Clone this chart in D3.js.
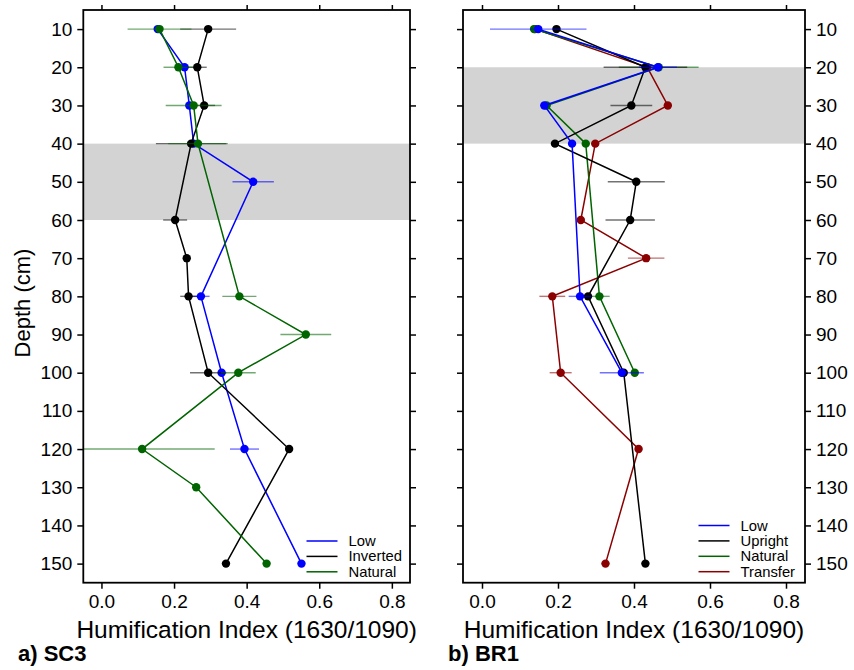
<!DOCTYPE html>
<html>
<head>
<meta charset="utf-8">
<script src="https://cdn.jsdelivr.net/npm/d3@7"></script>
<style>
    body { margin: 0; background: #fff; }
    svg { font-family: "Liberation Sans", Arial, sans-serif; }
</style>
</head>
<body>
<svg id="chart" width="854" height="670"></svg>
<script>
// depths (cm), shared by both cores
const depths = [10, 20, 30, 40, 50, 60, 70, 80, 90, 100, 110, 120, 130, 140, 150];
const xTicks = [0, 0.2, 0.4, 0.6, 0.8];

// a) SC3
const sc3Low = [0.155, 0.229, 0.242, 0.254, 0.418, null, null, 0.274, null, 0.331, null, 0.394, null, null, 0.551];
const sc3LowErr = [0.01, 0.01, 0.01, 0.01, 0.057, null, null, 0.024, null, 0.01, null, 0.04, null, null, 0];
const sc3Inverted = [0.294, 0.264, 0.283, 0.247, null, 0.203, 0.235, 0.240, null, 0.294, null, 0.517, null, null, 0.343];
const sc3InvertedErr = [0.077, 0.026, 0.03, 0.097, null, 0.033, 0, 0.023, null, 0.05, null, 0, null, null, 0];
const sc3Natural = [0.160, 0.212, 0.254, 0.266, null, null, null, 0.380, 0.563, 0.377, null, 0.112, 0.261, null, 0.455];
const sc3NaturalErr = [0.088, 0.041, 0.077, 0.082, null, null, null, 0.047, 0.07, 0.048, null, 0.2, 0, null, 0];

// b) BR1
const br1Low = [0.148, 0.463, 0.164, 0.237, null, null, null, 0.258, null, 0.368, null, null, null, null, null];
const br1LowErr = [0.127, 0.05, 0.01, 0.01, null, null, null, 0.03, null, 0.058, null, null, null, null, null];
const br1Upright = [0.196, 0.430, 0.393, 0.192, 0.406, 0.390, null, 0.279, null, 0.373, null, null, null, null, 0.430];
const br1UprightErr = [0.01, 0.11, 0.055, 0.01, 0.075, 0.065, null, 0.01, null, 0.01, null, null, null, null, 0];
const br1Natural = [0.137, 0.465, 0.170, 0.273, null, null, null, 0.309, null, 0.402, null, null, null, null, null];
const br1NaturalErr = [0.01, 0.105, 0.01, 0.01, null, null, null, 0.027, null, 0.01, null, null, null, null, null];
const br1Transfer = [0.14, 0.435, 0.489, 0.298, null, 0.260, 0.432, 0.185, null, 0.207, null, 0.412, null, null, 0.325];
const br1TransferErr = [0.01, 0.01, 0.01, 0.01, null, 0.01, 0.048, 0.034, null, 0.029, null, 0.01, null, null, 0.01];

const colors = { Low: "#0000ff", Inverted: "#000000", Upright: "#000000", Natural: "#006400", Transfer: "#8b0000" };

class DepthPanel {
    constructor(svg, opts) {
        this.svg = svg;
        this.opts = opts;
    }

    draw() {
        let o = this.opts;
        let g = this.svg.append("g");

        let x = d3.scaleLinear().domain([-0.05, 0.85]).range([o.left, o.right]);
        let y = d3.scaleLinear().domain([5, 155]).range([o.top, o.bottom]);

        let clipId = "clip-" + o.id;
        this.svg.append("defs").append("clipPath").attr("id", clipId)
            .append("rect")
            .attr("x", o.left).attr("y", o.top)
            .attr("width", o.right - o.left).attr("height", o.bottom - o.top);

        // shaded depth band
        g.append("rect")
            .attr("x", o.left)
            .attr("y", y(o.band[0]))
            .attr("width", o.right - o.left)
            .attr("height", y(o.band[1]) - y(o.band[0]))
            .attr("fill", "#d3d3d3");

        let plot = g.append("g").attr("clip-path", `url(#${clipId})`);

        o.series.forEach(s => {
            let pts = depths.map((d, i) => ({ depth: d, v: s.values[i], e: s.err[i] }))
                .filter(p => p.v != null);
            let sg = plot.append("g");

            sg.selectAll("line.err").data(pts.filter(p => p.e > 0)).join("line")
                .attr("class", "err")
                .attr("x1", p => x(p.v - p.e))
                .attr("x2", p => x(p.v + p.e))
                .attr("y1", p => y(p.depth))
                .attr("y2", p => y(p.depth))
                .attr("stroke", colors[s.name])
                .attr("stroke-width", 1.4)
                .attr("opacity", 0.55);

            sg.append("path")
                .datum(pts)
                .attr("fill", "none")
                .attr("stroke", colors[s.name])
                .attr("stroke-width", 1.5)
                .attr("d", d3.line().x(p => x(p.v)).y(p => y(p.depth)));

            sg.selectAll("circle").data(pts).join("circle")
                .attr("cx", p => x(p.v))
                .attr("cy", p => y(p.depth))
                .attr("r", 4.2)
                .attr("fill", colors[s.name]);
        });

        // axes, ticks on all four sides
        let tickFont = sel => sel.selectAll("text").style("font-size", "19px").attr("fill", "#000");
        let noDomain = sel => sel.select(".domain").remove();

        g.append("g").attr("transform", `translate(0,${o.bottom})`)
            .call(d3.axisBottom(x).tickValues(xTicks).tickFormat(d3.format(".1f")).tickSize(6).tickPadding(6))
            .call(noDomain).call(tickFont);
        g.append("g").attr("transform", `translate(0,${o.top})`)
            .call(d3.axisTop(x).tickValues(xTicks).tickFormat("").tickSize(5))
            .call(noDomain);

        let yLabelled = o.yRight ? d3.axisRight(y) : d3.axisLeft(y);
        let yPlain = o.yRight ? d3.axisLeft(y) : d3.axisRight(y);
        g.append("g").attr("transform", `translate(${o.yRight ? o.right : o.left},0)`)
            .call(yLabelled.tickValues(depths).tickSize(6).tickPadding(5))
            .call(noDomain).call(tickFont);
        g.append("g").attr("transform", `translate(${o.yRight ? o.left : o.right},0)`)
            .call(yPlain.tickValues(depths).tickFormat("").tickSize(6))
            .call(noDomain);
        g.selectAll(".tick line").attr("stroke", "#000").attr("stroke-width", 1.5);

        // frame
        g.append("rect")
            .attr("x", o.left).attr("y", o.top)
            .attr("width", o.right - o.left).attr("height", o.bottom - o.top)
            .attr("fill", "none")
            .attr("stroke", "#000")
            .attr("stroke-width", 1.8);

        // x title and panel label
        g.append("text")
            .attr("x", (o.left + o.right) / 2)
            .attr("y", 638)
            .attr("text-anchor", "middle")
            .style("font-size", "24.5px")
            .text("Humification Index (1630/1090)");

        g.append("text")
            .attr("x", o.labelX)
            .attr("y", 661)
            .style("font-size", "22px")
            .style("font-weight", "bold")
            .text(o.label);

        // legend
        let legend = g.append("g")
            .attr("transform", `translate(${o.legendX}, ${o.legendY})`);
        let rows = legend.selectAll("g").data(o.legendNames).join("g")
            .attr("transform", (d, i) => `translate(0, ${i * 15.4})`);
        rows.append("line")
            .attr("x1", 0).attr("x2", 31)
            .attr("stroke", d => colors[d])
            .attr("stroke-width", 1.5);
        rows.append("text")
            .attr("x", 42)
            .attr("y", 5)
            .style("font-size", "14.8px")
            .text(d => d);
    }
}

let svg = d3.select("#chart");

new DepthPanel(svg, {
    id: "sc3", left: 83.3, right: 410, top: 10, bottom: 582.7,
    band: [40, 60], yRight: false, label: "a) SC3", labelX: 18,
    legendX: 306.5, legendY: 541, legendNames: ["Low", "Inverted", "Natural"],
    series: [
        { name: "Low", values: sc3Low, err: sc3LowErr },
        { name: "Inverted", values: sc3Inverted, err: sc3InvertedErr },
        { name: "Natural", values: sc3Natural, err: sc3NaturalErr }
    ]
}).draw();

new DepthPanel(svg, {
    id: "br1", left: 463, right: 805, top: 10, bottom: 582.7,
    band: [20, 40], yRight: true, label: "b) BR1", labelX: 448,
    legendX: 698.5, legendY: 525.5, legendNames: ["Low", "Upright", "Natural", "Transfer"],
    series: [
        { name: "Transfer", values: br1Transfer, err: br1TransferErr },
        { name: "Natural", values: br1Natural, err: br1NaturalErr },
        { name: "Upright", values: br1Upright, err: br1UprightErr },
        { name: "Low", values: br1Low, err: br1LowErr }
    ]
}).draw();

// shared y title
svg.append("text")
    .attr("transform", "translate(30, 303) rotate(-90)")
    .attr("text-anchor", "middle")
    .style("font-size", "22px")
    .text("Depth (cm)");
</script>
</body>
</html>
